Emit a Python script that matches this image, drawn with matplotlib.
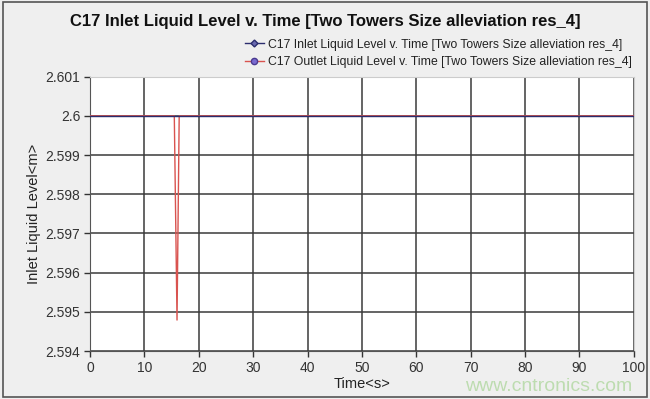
import matplotlib
matplotlib.use("Agg")
import matplotlib.pyplot as plt
from matplotlib.lines import Line2D
from matplotlib.patches import Rectangle

plt.rcParams['font.family'] = ['Liberation Sans', 'DejaVu Sans']

# Data
inlet_t = [0, 100]
inlet_v = [2.6, 2.6]
outlet_t = [0, 15.5, 16.0, 16.4, 17.8, 100]
outlet_v = [2.6, 2.6, 2.59479, 2.6, 2.6, 2.6]
xticks = [0, 10, 20, 30, 40, 50, 60, 70, 80, 90, 100]
yticks = [2.594, 2.595, 2.596, 2.597, 2.598, 2.599, 2.6, 2.601]
ytick_labels = ['2.594', '2.595', '2.596', '2.597', '2.598', '2.599', '2.6', '2.601']
title = 'C17 Inlet Liquid Level v. Time [Two Towers Size alleviation res_4]'
inlet_label = 'C17 Inlet Liquid Level v. Time [Two Towers Size alleviation res_4]'
outlet_label = 'C17 Outlet Liquid Level v. Time [Two Towers Size alleviation res_4]'

fig = plt.figure(figsize=(6.5, 3.99), dpi=100, facecolor='#efefef')
fig.patches.append(Rectangle((0.004, 0.004), 0.992, 0.992, transform=fig.transFigure,
                             fill=False, edgecolor='#555555', linewidth=1.2))
ax = fig.add_axes([0.1385, 0.1203, 0.8365, 0.6875])
ax.set_facecolor('white')

ax.plot(outlet_t, outlet_v, color='#d9534f', linewidth=1.0, zorder=3)
ax.plot(inlet_t, inlet_v, color='#2b2d6e', linewidth=1.0, zorder=4)

ax.set_xlim(0, 100)
ax.set_ylim(2.594, 2.601)
ax.set_xticks(xticks)
ax.set_xticklabels([str(t) for t in xticks])
ax.set_yticks(yticks)
ax.set_yticklabels(ytick_labels)
ax.grid(True, color='#3a3a3a', linewidth=1.1, zorder=1)
ax.set_axisbelow(True)
for side in ['top', 'right']:
    ax.spines[side].set_color('#cccccc')
for side in ['left', 'bottom']:
    ax.spines[side].set_color('#555555')
ax.tick_params(axis='both', labelsize=10, colors='#333333', length=4, width=1.0)
ax.tick_params(axis='y', pad=3)
ax.set_xlabel('Time<s>', fontsize=10.5, color='#222222', labelpad=1)
ax.set_ylabel('Inlet Liquid Level<m>', fontsize=10.5, color='#222222', labelpad=3)

fig.text(0.5, 0.947, title, ha='center', va='center', fontsize=12, fontweight='bold',
         family=['Liberation Sans Narrow', 'Liberation Sans', 'DejaVu Sans'], color='#111111')

handles = [
    Line2D([], [], color='#2b2d6e', marker='D', markersize=3.5, markerfacecolor='#6a6ab0', linewidth=1),
    Line2D([], [], color='#d9534f', marker='o', markersize=4.5, markerfacecolor='#7a6ad0',
           markeredgecolor='#4a3a90', linewidth=1),
]
fig.legend(handles, [inlet_label, outlet_label], loc='center', bbox_to_anchor=(0.675, 0.866),
           frameon=False, fontsize=8.8, handlelength=1.5, handletextpad=0.4, labelspacing=0.45,
           labelcolor='#222222')

fig.text(0.972, 0.032, 'www.cntronics.com', ha='right', va='center', fontsize=14,
         color='#bddcb0')

fig.savefig('out.png', dpi=100, facecolor=fig.get_facecolor())
